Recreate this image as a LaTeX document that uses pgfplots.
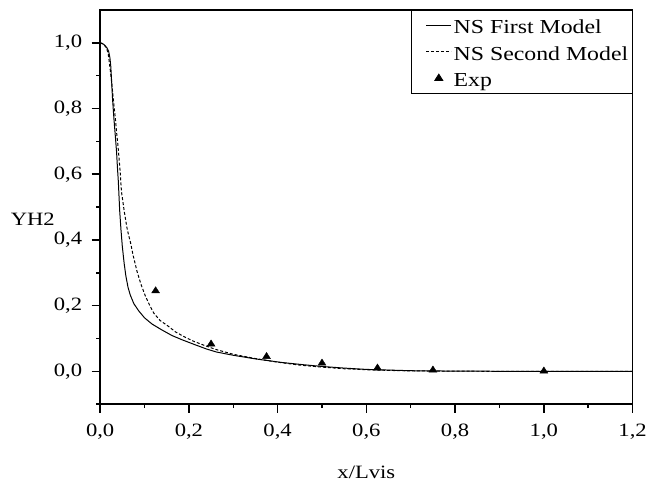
\documentclass[border=0pt]{standalone}
\usepackage{fontspec}
\setmainfont{Liberation Serif}[FakeStretch=1.2]
\usepackage{pgfplots}
\pgfplotsset{compat=1.18}
\pgfplotsset{markonly legend/.style={legend image code/.code={\path (0pt,0pt) (38pt,0pt); \draw[##1] plot coordinates {(25.5pt,0pt)};}}}

\pgfplotstableread{
x y
0 1.0
0.005 0.998
0.010 0.993
0.015 0.985
0.019 0.975
0.022 0.955
0.024 0.928
0.026 0.88
0.028 0.828
0.031 0.77
0.034 0.72
0.037 0.668
0.039 0.62
0.041 0.578
0.044 0.49
0.047 0.43
0.050 0.38
0.054 0.33
0.058 0.29
0.063 0.255
0.068 0.232
0.076 0.206
0.087 0.184
0.100 0.163
0.117 0.144
0.138 0.127
0.162 0.109
0.185 0.096
0.214 0.081
0.240 0.068
0.262 0.059
0.30 0.049
0.35 0.038
0.41 0.027
0.46 0.020
0.5 0.015
0.55 0.010
0.6 0.006
0.65 0.004
0.7 0.002
0.8 0.0008
0.9 0.0003
1.0 0.0001
1.2 0.0
}\firstmodel

\pgfplotstableread{
x y
0 1.0
0.008 0.995
0.014 0.985
0.018 0.968
0.020 0.948
0.023 0.915
0.026 0.878
0.029 0.838
0.032 0.798
0.035 0.76
0.037 0.728
0.040 0.69
0.042 0.658
0.045 0.61
0.048 0.548
0.054 0.49
0.060 0.44
0.064 0.415
0.068 0.395
0.074 0.355
0.083 0.305
0.092 0.265
0.102 0.229
0.112 0.20
0.121 0.177
0.135 0.155
0.153 0.138
0.17 0.12
0.19 0.105
0.21 0.092
0.235 0.079
0.26 0.067
0.3 0.052
0.35 0.039
0.4 0.028
0.45 0.019
0.5 0.013
0.55 0.008
0.6 0.005
0.65 0.003
0.7 0.0015
0.8 0.0005
1.0 0.0001
1.2 0.0
}\secondmodel

\pgfplotstableread{
x y
0.125 0.245
0.25 0.083
0.375 0.045
0.5 0.025
0.625 0.010
0.75 0.004
1.0 0.001
}\expdata

\begin{document}
\fontsize{19}{23}\selectfont
\begin{tikzpicture}
\begin{axis}[name=ax,
  scale only axis, width=537pt, height=397.7pt,
  xmin=0, xmax=1.2, ymin=-0.1, ymax=1.1,
  xtick={0,0.2,0.4,0.6,0.8,1.0,1.2},
  ytick={0,0.2,0.4,0.6,0.8,1.0},
  minor xtick={0.1,0.3,0.5,0.7,0.9,1.1},
  minor ytick={-0.1,0.1,0.3,0.5,0.7,0.9},
  tick pos=left, tick align=outside,
  major tick length=8.5pt, minor tick length=4pt,
  every tick/.style={black, line width=1.5pt},
  axis line style={line width=1.8pt},
  /pgf/number format/.cd, use comma, fixed, fixed zerofill, precision=1, assume math mode=true,
  /pgfplots/.cd,
  tick label style={font=\fontsize{19}{23}\selectfont},
  xticklabel style={yshift=-4.5pt},
  yticklabel style={xshift=-3.2pt},
  every axis x label/.style={at={(axis description cs:0.5,-0.1735)}, anchor=center},
  every axis y label/.style={at={(axis description cs:-0.1266,0.4694)}, anchor=center},
  xlabel={x/Lvis}, ylabel={YH2},
  legend style={at={(1,1)}, anchor=north east, draw=black, line width=0.9pt,
    font=\fontsize{20}{24}\selectfont, row sep=1.5pt, inner xsep=2pt, inner ysep=2.6pt,
    nodes={inner xsep=2pt, inner ysep=1pt, text height=20.2pt, text depth=3pt}},
  legend cell align=left,
  legend image code/.code={\path (0pt,0pt); \draw[#1] (13pt,0pt) -- (38pt,0pt);},
]
\addplot[black, line width=1pt] table {\firstmodel};
\addlegendentry{NS First Model}
\addplot[black, line width=1pt, dash pattern=on 3pt off 2pt] table {\secondmodel};
\addlegendentry{NS Second Model}
\addplot[black, only marks, mark=triangle*, mark size=4.2pt, mark options={xscale=1.1}, markonly legend] table {\expdata};
\addlegendentry{Exp}
\end{axis}
\path ([xshift=-101pt,yshift=-74.3pt]ax.south west) rectangle ([xshift=15pt,yshift=10pt]ax.north east);
\end{tikzpicture}
\end{document}
